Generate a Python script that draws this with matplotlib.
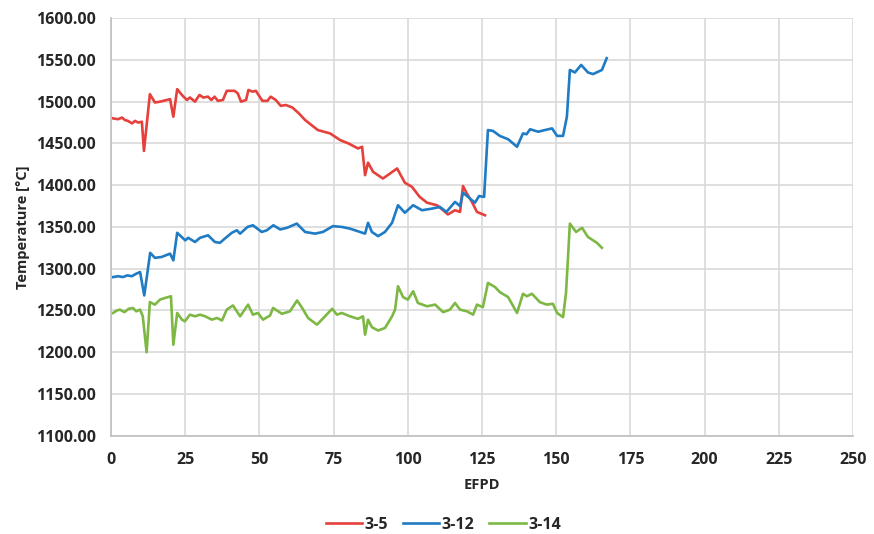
import matplotlib
matplotlib.use("Agg")
import matplotlib.pyplot as plt
from matplotlib.ticker import FormatStrFormatter

plt.rcParams['font.family'] = ['Open Sans', 'DejaVu Sans']

# 3-5
efpd_35 = [0.7, 2.4, 3.7, 4.7, 5.7, 7.1, 8.1, 9.1, 10.4, 11.1, 13.1, 14.8, 16.5, 19.9, 21,
           22.3, 23.9, 25.6, 26.6, 28.3, 29.8, 31.1, 32.7, 33.8, 34.9, 36, 37.7, 39, 41.6,
           42.7, 43.8, 45.5, 46.3, 47.7, 48.8, 51, 52.7, 53.8, 55.5, 57.2, 58.9, 61.1, 63.3,
           65.4, 69.7, 73.8, 77.2, 80, 83.2, 84.6, 85.6, 86.6, 88.3, 91.6, 94, 96.4, 99,
           101.4, 104, 106.5, 109.8, 111.9, 113.5, 115.9, 117.6, 118.6, 119.9, 121.6, 123.3, 126]
temp_35 = [1480, 1479, 1481, 1478, 1477, 1474, 1477, 1475, 1476, 1441, 1509, 1499, 1500, 1503, 1482,
           1515, 1508, 1502, 1505, 1500, 1508, 1505, 1506, 1502, 1506, 1501, 1502, 1513, 1513,
           1510, 1500, 1502, 1514, 1512, 1513, 1501, 1501, 1506, 1502, 1495, 1496, 1493, 1486,
           1478, 1466, 1462, 1454, 1450, 1444, 1446, 1412, 1427, 1416, 1408, 1414, 1420, 1403,
           1398, 1386, 1379, 1376, 1370, 1365, 1370, 1368, 1399, 1390, 1380, 1368, 1364]

# 3-12
efpd_312 = [0.7, 2.5, 4, 5.5, 7, 8.5, 9.8, 11.2, 13.2, 14.8, 17, 19.9, 21, 22.3, 25, 26, 28.3, 30,
            32.7, 35, 36.7, 39, 40.7, 42.4, 43.5, 46, 47.8, 50.8, 52.5, 54.7, 57, 59.3, 62.6,
            65.4, 68.7, 71.4, 74.8, 77.8, 80.5, 83.9, 85.6, 86.6, 87.9, 90, 92.3, 94.7, 96.7,
            99, 101.8, 104.8, 108.2, 110.8, 113, 115.9, 117.6, 118.6, 120.3, 122.6, 124, 125.7,
            127, 128.7, 131, 133.8, 136.8, 138.8, 140, 141.2, 143.9, 146.2, 148.6, 150.3, 152.3,
            153.6, 154.6, 156.3, 158.4, 160.7, 162.4, 165.4, 167]
temp_312 = [1290, 1291, 1290, 1292, 1291, 1294, 1296, 1268, 1319, 1313, 1314, 1318, 1310, 1343, 1334,
            1337, 1332, 1337, 1340, 1332, 1331, 1338, 1343, 1346, 1342, 1350, 1352, 1344, 1346,
            1352, 1347, 1349, 1354, 1344, 1342, 1344, 1351, 1350, 1348, 1344, 1342, 1355, 1344,
            1339, 1344, 1355, 1376, 1367, 1376, 1370, 1372, 1374, 1368, 1380, 1375, 1391, 1386,
            1379, 1387, 1386, 1466, 1465, 1459, 1455, 1446, 1462, 1461, 1467, 1464, 1466, 1468,
            1459, 1459, 1482, 1538, 1535, 1544, 1535, 1533, 1538, 1552]

# 3-14
efpd_314 = [0.7, 2, 3, 4.5, 6, 7.4, 8.5, 9.8, 10.7, 12, 13.1, 14.8, 16.5, 18.2, 20.2, 21, 22.3,
            23.9, 24.9, 26.6, 28.3, 30, 31.7, 34, 35.7, 37.4, 39, 41.1, 43.5, 46.2, 47.8, 49.5,
            51.2, 53.6, 54.6, 57.6, 60.3, 62.7, 64.4, 66.4, 69.4, 72.1, 74.5, 76.1, 77.8, 80.5,
            83.2, 84.9, 85.6, 86.6, 87.9, 90, 92.3, 94.7, 95.7, 96.7, 98.4, 100, 101.8, 103.4,
            106.5, 109.2, 111.9, 114.2, 115.9, 117.6, 119.9, 122, 123.3, 125.3, 127, 129.4, 131,
            133.8, 136.8, 138.8, 140.1, 141.8, 144.5, 146.8, 148.9, 150.3, 152.3, 153.3, 154.6,
            156.7, 158.7, 160.7, 163.7, 165.4]
temp_314 = [1247, 1250, 1251, 1248, 1252, 1253, 1249, 1251, 1243, 1200, 1260, 1257, 1263, 1265, 1267,
            1209, 1247, 1239, 1237, 1245, 1243, 1245, 1243, 1239, 1241, 1238, 1251, 1256, 1243,
            1257, 1245, 1247, 1239, 1244, 1253, 1246, 1249, 1262, 1253, 1241, 1233, 1243, 1252,
            1245, 1247, 1243, 1240, 1243, 1221, 1239, 1230, 1226, 1229, 1243, 1251, 1279, 1266,
            1263, 1273, 1259, 1255, 1257, 1248, 1251, 1259, 1251, 1249, 1245, 1257, 1254, 1283,
            1278, 1272, 1266, 1247, 1270, 1267, 1270, 1260, 1257, 1258, 1247, 1242, 1271, 1354,
            1344, 1349, 1338, 1331, 1325]

fig, ax = plt.subplots(figsize=(8.74, 5.34), dpi=100)
fig.subplots_adjust(left=0.127, right=0.976, top=0.966, bottom=0.184)

ax.plot(efpd_35, temp_35, color='#E5403B', lw=1.9, label='3-5')
ax.plot(efpd_312, temp_312, color='#1E7BC4', lw=1.9, label='3-12')
ax.plot(efpd_314, temp_314, color='#7DB844', lw=1.9, label='3-14')

ax.set_xlim(0, 250)
ax.set_ylim(1100, 1600)
ax.set_xticks(range(0, 251, 25))
ax.set_yticks(range(1100, 1601, 50))
ax.yaxis.set_major_formatter(FormatStrFormatter('%.2f'))
ax.grid(True, color='#D9D9D9', lw=1.2)
ax.set_axisbelow(True)
for s in ['top', 'right']:
    ax.spines[s].set_visible(False)
for s in ['left', 'bottom']:
    ax.spines[s].set_color('#BFBFBF')
    ax.spines[s].set_linewidth(1.2)
ax.tick_params(length=0, labelsize=11.5, labelcolor='#262626')
ax.tick_params(axis='x', pad=12)
ax.tick_params(axis='y', pad=11)
for lbl in ax.get_xticklabels() + ax.get_yticklabels():
    lbl.set_fontweight('bold')

ax.set_xlabel('EFPD', fontsize=10.5, fontweight='bold', labelpad=7, color='#262626')
ax.set_ylabel('Temperature [°C]', fontsize=10.5, fontweight='bold', labelpad=4, color='#262626')

# legend centred on the figure, below the x label
handles, labels = ax.get_legend_handles_labels()
leg = fig.legend(handles, labels, loc='center', bbox_to_anchor=(0.507, 1 - 525 / 534), ncol=3,
                 frameon=False, fontsize=11.5, handlelength=2.3, columnspacing=0.9,
                 handletextpad=0.15)
for t in leg.get_texts():
    t.set_fontweight('bold')
    t.set_color('#262626')

fig.savefig('out.png', dpi=100)
